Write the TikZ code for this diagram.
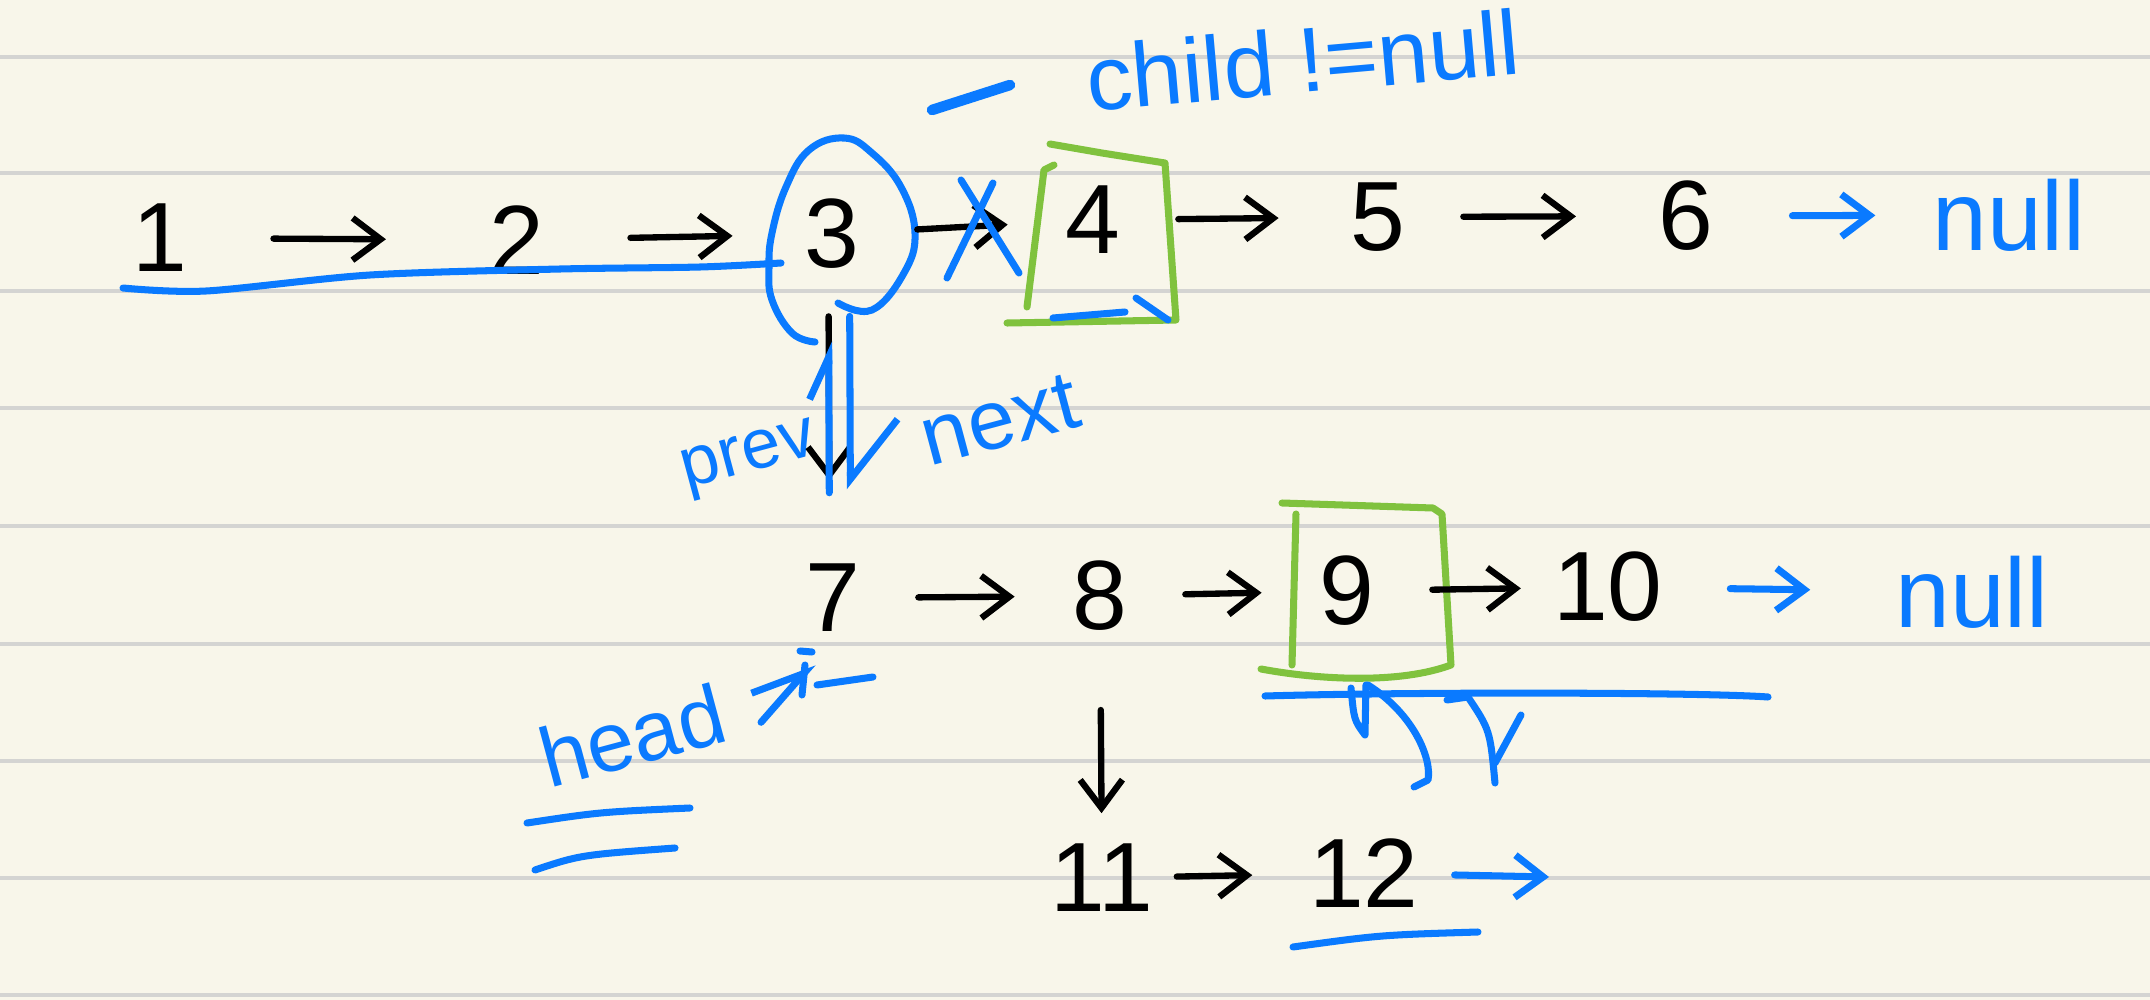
\documentclass[tikz,border=0pt]{standalone}
\usepackage{fontspec}
\setmainfont{Liberation Sans}
\usetikzlibrary{positioning, arrows.meta}
\definecolor{paper}{RGB}{248,246,234}
\definecolor{ruling}{RGB}{212,212,210}
\definecolor{pen}{RGB}{10,122,255}
\definecolor{marker}{RGB}{128,194,62}

\begin{document}
\begin{tikzpicture}[x=0.01cm, y=-0.01cm, line cap=round, line join=round,
    >={Straight Barb[length=8pt,width=12pt]},
    num/.style={font=\fontsize{28}{30}\selectfont, inner sep=2pt, minimum width=1.2cm, minimum height=1cm},
    note/.style={font=\fontsize{28}{30}\selectfont, text=pen, inner sep=2pt},
    link/.style={->, line width=1.8pt, shorten <=7pt, shorten >=7pt},
    plink/.style={link, pen, line width=2pt},
    ink/.style={pen, line width=2pt},
    hilite/.style={marker, line width=2pt}]
\useasboundingbox (0,0) rectangle (2150,1000);
\fill[paper] (0,0) rectangle (2150,1000);
\foreach \y in {57,173,291,408,526,644,761,878,995}
  \draw[ruling, line width=1.2pt, line cap=butt] (0,\y) -- (2150,\y);

\node[num] (n1) at (160,238) {1};
\node[num] (n2) at (517,240) {2};
\node[num] (n3) at (832,234) {3};
\node[num] (n4) at (1093,220) {4};
\node[num] (n5) at (1378,217) {5};
\node[num] (n6) at (1686,216) {6};
\node[note] (null1) at (2009,215) {null};
\node[num] (n7) at (833,598) {7};
\node[num] (n8) at (1100,596) {8};
\node[num] (n9) at (1347,591) {9};
\node[num] (n10) at (1608,587) {10};
\node[note] (null2) at (1972,592) {null};
\node[num] (n11) at (1102,878) {11};
\node[num] (n12) at (1364,873) {12};
\coordinate (tail) at (1549,877);
\node[note, font=\fontsize{26}{28}\selectfont, rotate=5] (child) at (1303,60) {child !=null};
\node[note, font=\fontsize{20}{22}\selectfont, rotate=15] (prev) at (750,460) {prev};
\node[note, font=\fontsize{24}{26}\selectfont, rotate=15] (next) at (1000,420) {next};
\node[note, font=\fontsize{24}{26}\selectfont, rotate=15] (head) at (632,735) {head};
\coordinate (headtip) at (813,663);

\draw[ink] plot[smooth] coordinates {(123,288) (206,291) (370,275) (560,269) (700,267) (781,263)};
\draw[ink] plot[smooth, tension=0.7] coordinates {(838,303) (872,310) (904,273) (915,233) (901,187) (872,153) (844,138) (809,150) (786,187) (772,233) (769,267) (772,300) (792,333) (815,342)};
\draw[hilite] (1050,144) -- (1102,153) -- (1165,163) -- (1176,320) -- (1007,323);
\draw[hilite] (1054,165) -- (1044,170) -- (1027,307);
\draw[hilite] (1282,503) -- (1433,508) -- (1442,514) -- (1451,665) .. controls (1400,684) and (1320,680) .. (1261,669);
\draw[hilite] (1296,514) -- (1292,665);

\draw[link, shorten <=15pt, shorten >=20pt] (n1) -- (n2);
\draw[link, shorten <=15pt, shorten >=11pt] (n2) -- (n3);
\draw[link] (n3) -- (n4);
\draw[link, shorten >=11pt] (n4) -- (n5);
\draw[link, shorten >=14pt] (n5) -- (n6);
\draw[plink, shorten <=13pt, shorten >=14pt] (n6) -- (null1);
\draw[link] (n7) -- (n8);
\draw[link] (n8) -- (n9);
\draw[link] (n9) -- (n10);
\draw[plink, shorten <=17pt, shorten >=22pt] (n10) -- (null2);
\draw[link, shorten <=4pt, shorten >=14pt] (n11) -- (n12);
\draw[plink, shorten <=8pt, shorten >=0pt] (n12) -- (tail);
\draw[link, shorten <=18pt, shorten >=4pt] (n8) -- (n11);
\draw[link, shorten <=9pt, shorten >=19pt] ([xshift=-1pt]n3.south) -- ([xshift=-1pt]n7.north);
\draw[plink, shorten <=15.5pt, shorten >=16pt, -{Straight Barb[left, length=12pt, width=11pt]}] ([xshift=-1pt]n7.north) -- ([xshift=-1pt]n3.south);
\draw[plink, shorten <=9pt, shorten >=16.5pt, -{Straight Barb[left, length=17pt, width=27pt]}] ([xshift=5pt]n3.south) -- ([xshift=5pt]n7.north);
\draw[plink, shorten <=9pt, shorten >=0pt, -{Straight Barb[left, length=14pt, width=15pt]}] (head.south east) -- (headtip);

\draw[ink] (961,180) -- (1019,273);
\draw[ink] (993,183) -- (947,278);
\draw[ink, line width=3pt] (932,110) -- (1010,85);
\draw[ink] (1053,318) -- (1125,312);
\draw[ink] (1136,298) -- (1168,320);
\draw[ink] (800,651) -- (812,652);
\draw[ink] (805,665) -- (802,695);
\draw[ink] (817,685) -- (873,677);
\draw[ink] (527,823) .. controls (600,812) .. (690,808);
\draw[ink] (535,870) .. controls (580,855) .. (675,848);
\draw[ink] (1265,696) .. controls (1400,692) and (1700,692) .. (1768,697);
\draw[ink] (1351,688) .. controls (1354,720) .. (1365,735) -- (1366,685);
\draw[ink] (1368,685) .. controls (1415,715) and (1432,760) .. (1428,780) -- (1414,787);
\draw[ink] (1447,700) -- (1468,697) .. controls (1490,730) .. (1495,783);
\draw[ink] (1495,763) -- (1521,715);
\draw[ink] (1293,947) .. controls (1380,935) .. (1478,932);
\end{tikzpicture}
\end{document}
